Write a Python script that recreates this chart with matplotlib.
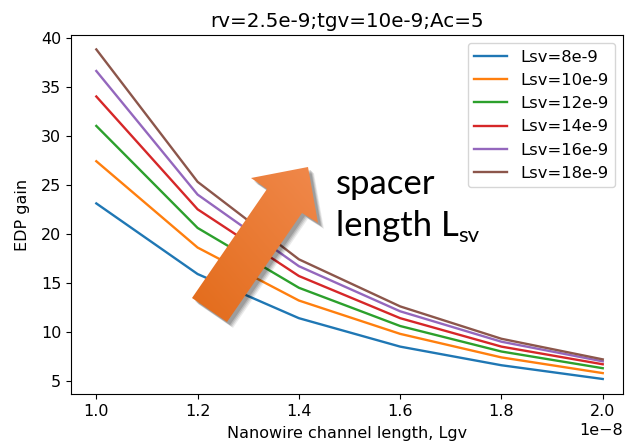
import numpy as np
import matplotlib
matplotlib.use("Agg")
import matplotlib.pyplot as plt
from matplotlib.patches import Polygon

# ---- data ----
lgv = [1.0e-8, 1.2e-8, 1.4e-8, 1.6e-8, 1.8e-8, 2.0e-8]
lsv_labels = ["Lsv=8e-9", "Lsv=10e-9", "Lsv=12e-9", "Lsv=14e-9", "Lsv=16e-9", "Lsv=18e-9"]
edp_8 = [23.1, 15.9, 11.4, 8.5, 6.6, 5.2]
edp_10 = [27.4, 18.6, 13.2, 9.8, 7.4, 5.8]
edp_12 = [31.0, 20.6, 14.5, 10.6, 8.0, 6.3]
edp_14 = [34.0, 22.5, 15.7, 11.4, 8.5, 6.7]
edp_16 = [36.6, 24.0, 16.7, 12.1, 9.0, 7.0]
edp_18 = [38.8, 25.3, 17.4, 12.6, 9.3, 7.2]
series = [edp_8, edp_10, edp_12, edp_14, edp_16, edp_18]

plt.rcParams['font.size'] = 11.5
W, H = 625, 446
fig = plt.figure(figsize=(W / 100, H / 100), dpi=100)
ax = fig.add_axes([71 / W, 1 - 394 / H, (623 - 71) / W, (394 - 35) / H])

for vals, lab in zip(series, lsv_labels):
    ax.plot(lgv, vals, label=lab, lw=1.7)

ax.set_xlim(0.95e-8, 2.04e-8)
ax.set_ylim(3.67, 40.27)
ax.set_yticks([5, 10, 15, 20, 25, 30, 35, 40])
ax.set_xticks([1.0e-8, 1.2e-8, 1.4e-8, 1.6e-8, 1.8e-8, 2.0e-8])
ax.set_title("rv=2.5e-9;tgv=10e-9;Ac=5", fontsize=14.3)
ax.set_xlabel("Nanowire channel length, Lgv", labelpad=5)
ax.set_ylabel("EDP gain", labelpad=8)
ax.legend(loc="upper right", fontsize=11.8)

# ---- overlay annotation arrow ----
ov = fig.add_axes([0, 0, 1, 1], facecolor='none')
ov.set_xlim(0, W)
ov.set_ylim(H, 0)
ov.axis('off')
pts = [(192, 298), (267, 189), (251, 178), (308, 167), (318, 223), (302, 213), (227, 322)]
for k, a in zip([6, 5, 4, 3], [0.08, 0.1, 0.12, 0.15]):
    sh = Polygon([(x + k, y + k) for x, y in pts], closed=True, fc='black', ec='none', alpha=a)
    ov.add_patch(sh)
poly = Polygon(pts, closed=True, fc='none', ec='none')
ov.add_patch(poly)
grad = np.linspace(0, 1, 256)
g2 = np.add.outer(grad, grad) / 2
c0 = np.array([226, 106, 24]) / 255
c1 = np.array([241, 138, 78]) / 255
img = c0[None, None, :] * (1 - g2[..., None]) + c1[None, None, :] * g2[..., None]
img = np.flipud(img)
im = ov.imshow(img, extent=(185, 325, 325, 160), origin='upper', aspect='auto', zorder=3)
im.set_clip_path(poly)
ov.set_xlim(0, W)
ov.set_ylim(H, 0)

ov.text(336, 194, "spacer", fontsize=25, family="Lato", va='baseline', ha='left')
t = ov.text(336, 236, "length L", fontsize=25, family="Lato", va='baseline', ha='left')
fig.canvas.draw()
bb = t.get_window_extent()
x_end = bb.x1
ov.text(x_end / fig.dpi * 100 * (W / (fig.get_figwidth() * 100)), 242, "sv", fontsize=16,
        family="Lato", va='baseline', ha='left')

fig.savefig("out.png", dpi=100)
